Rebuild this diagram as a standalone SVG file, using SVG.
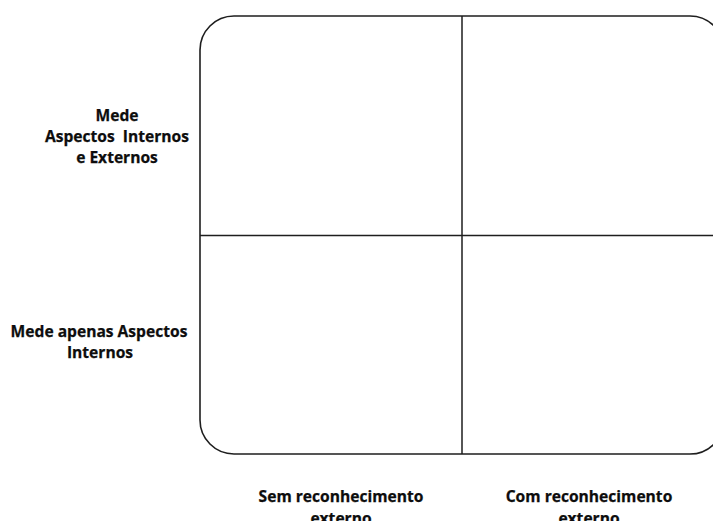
<svg xmlns="http://www.w3.org/2000/svg" width="713" height="521" viewBox="0 0 713 521">
  <style>
    .frame { fill: #ffffff; stroke: #1e1e1e; stroke-width: 1.6; }
    .divider { stroke: #1e1e1e; stroke-width: 1.5; fill: none; }
    .label { font-family: "Open Sans", "Liberation Sans", sans-serif; font-weight: bold; font-size: 15.6px; fill: #0d0d0d; text-anchor: middle; stroke: #0d0d0d; stroke-width: 0.25; }
  </style>
  <rect width="713" height="521" fill="#ffffff"/>

  <!-- Quadrant matrix frame -->
  <g id="matrix">
    <rect class="frame" x="200" y="16" width="524" height="438" rx="34" ry="34"/>
  </g>

  <!-- Quadrant dividers -->
  <g id="dividers">
    <line class="divider" x1="462" y1="16" x2="462" y2="454"/>
    <line class="divider" x1="200" y1="235.5" x2="724" y2="235.5"/>
  </g>

  <!-- Row labels -->
  <g id="row-top">
    <text class="label" x="117" y="121">Mede</text>
    <text class="label" x="117" y="142" xml:space="preserve">Aspectos  Internos</text>
    <text class="label" x="117" y="163">e Externos</text>
  </g>
  <g id="row-bottom">
    <text class="label" x="99" y="337">Mede apenas Aspectos</text>
    <text class="label" x="100" y="358">Internos</text>
  </g>

  <!-- Column labels -->
  <g id="col-left">
    <text class="label" x="341" y="502">Sem reconhecimento</text>
    <text class="label" x="341" y="524">externo</text>
  </g>
  <g id="col-right">
    <text class="label" x="589" y="502">Com reconhecimento</text>
    <text class="label" x="589" y="524">externo</text>
  </g>
</svg>
